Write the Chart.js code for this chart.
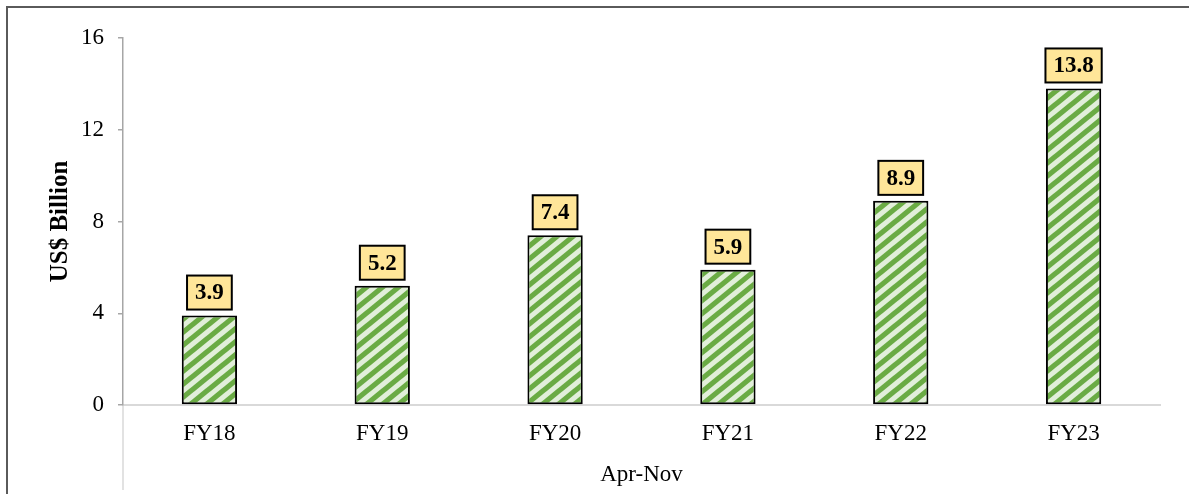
<!DOCTYPE html>
<html>
<head>
<meta charset="utf-8">
<script src="https://cdn.jsdelivr.net/npm/chart.js@4"></script>
<style>
  html, body { margin: 0; padding: 0; background: #fff; }
  #wrap { position: relative; width: 1189px; height: 494px; overflow: hidden; }
  #frame { position: absolute; left: 6px; top: 6px; width: 1300px; height: 600px;
           border-top: 2px solid #5a5a5a; border-left: 2px solid #5a5a5a; pointer-events: none; }
</style>
</head>
<body>
<div id="wrap">
  <canvas id="myChart" width="1189" height="494"></canvas>
  <div id="frame"></div>
</div>
<script>
const categories = ['FY18', 'FY19', 'FY20', 'FY21', 'FY22', 'FY23'];
const values = [3.9, 5.2, 7.4, 5.9, 8.9, 13.8];
const yTicks = [0, 4, 8, 12, 16];

// diagonal green hatch
function makeHatch() {
  const w = 16, h = 13;
  const c = document.createElement('canvas');
  c.width = w; c.height = h;
  const g = c.getContext('2d');
  g.fillStyle = '#e2efda';
  g.fillRect(0, 0, w, h);
  g.strokeStyle = '#6aab44';
  g.lineWidth = 5.2;
  // lines run past the tile edges so the stripes join up
  for (let k = -1; k <= 1; k++) {
    g.beginPath();
    g.moveTo(k * w - w, 2 * h);
    g.lineTo(k * w + 2 * w, -h);
    g.stroke();
  }
  return g.createPattern(c, 'repeat');
}

const serif = "'Liberation Serif', 'Times New Roman', serif";

const valueBoxes = {
  id: 'valueBoxes',
  afterDatasetsDraw(chart) {
    const ctx = chart.ctx;
    const meta = chart.getDatasetMeta(0);
    ctx.save();
    ctx.font = 'bold 23px ' + serif;
    ctx.textAlign = 'center';
    ctx.textBaseline = 'middle';
    meta.data.forEach((bar, i) => {
      const txt = values[i].toFixed(1);
      const w = ctx.measureText(txt).width + 16;
      const h = 34;
      const x = bar.x - w / 2;
      const y = bar.y - 6 - h;
      ctx.fillStyle = '#ffe699';
      ctx.fillRect(x, y, w, h);
      ctx.lineWidth = 2;
      ctx.strokeStyle = '#000';
      ctx.strokeRect(x, y, w, h);
      ctx.fillStyle = '#000';
      ctx.fillText(txt, bar.x, y + h / 2 + 1);
    });
    ctx.restore();
  }
};

const axisTail = {
  id: 'axisTail',
  afterDraw(chart) {
    const ctx = chart.ctx;
    const a = chart.chartArea;
    ctx.save();
    ctx.strokeStyle = '#d9d9d9';
    ctx.lineWidth = 1.5;
    ctx.beginPath();
    ctx.moveTo(a.left, a.bottom + 1);
    ctx.lineTo(a.left, 490);
    ctx.stroke();
    ctx.restore();
  }
};

const ctx = document.getElementById('myChart').getContext('2d');
const myChart = new Chart(ctx, {
  type: 'bar',
  data: {
    labels: categories,
    datasets: [{
      data: values,
      backgroundColor: makeHatch(),
      borderColor: '#000',
      borderWidth: 2,
      borderSkipped: false,
      barPercentage: 0.64,
      categoryPercentage: 0.5
    }]
  },
  options: {
    responsive: false,
    animation: false,
    layout: { padding: { top: 38, right: 29, left: 0, bottom: 0 } },
    scales: {
      x: {
        grid: { display: false, drawTicks: false },
        border: { color: '#d9d9d9', width: 2 },
        ticks: { color: '#000', padding: 15, font: { family: serif, size: 23 } },
        title: {
          display: true, text: 'Apr-Nov', color: '#000',
          font: { family: serif, size: 23 }, padding: { top: 0, bottom: 5 }
        },
        afterFit(scale) { scale.height = 89; }
      },
      y: {
        min: 0, max: 16,
        afterBuildTicks(scale) { scale.ticks = yTicks.map(v => ({ value: v })); },
        grid: { drawOnChartArea: false, drawTicks: true, tickLength: 5, color: '#a6a6a6', lineWidth: 1.5 },
        border: { color: '#a6a6a6', width: 1.5 },
        ticks: { color: '#000', padding: 14, font: { family: serif, size: 23 } },
        title: {
          display: true, text: 'US$ Billion', color: '#000',
          font: { family: serif, size: 25, weight: 'bold' }, padding: { top: 46, bottom: 0 }
        },
        afterFit(scale) { scale.width = 123; }
      }
    },
    plugins: {
      legend: { display: false },
      tooltip: { enabled: false }
    }
  },
  plugins: [valueBoxes, axisTail]
});
</script>
</body>
</html>
